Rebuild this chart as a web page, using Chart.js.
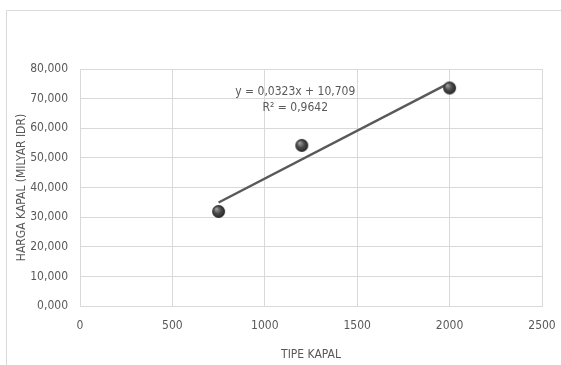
<!DOCTYPE html>
<html>
<head>
<meta charset="utf-8">
<script src="https://cdn.jsdelivr.net/npm/chart.js@4"></script>
<style>
  html, body { margin: 0; padding: 0; background: #fff; }
  #wrap { position: relative; width: 561px; height: 365px; }
</style>
</head>
<body>
<div id="wrap"><canvas id="chartKapal"></canvas></div>
<script>
// data
const tipeKapal = [750, 1200, 2000];
const hargaKapal = [31.9, 54.2, 73.6];
const yTicks = [0, 10, 20, 30, 40, 50, 60, 70, 80];
const xTicks = [0, 500, 1000, 1500, 2000, 2500];
// trendline as printed on the chart
const slope = 0.0323;
const intercept = 10.709;
const eqText = ['y = 0,0323x + 10,709', 'R\u00b2 = 0,9642'];

const grey = '#595959';
const gridGrey = '#d9d9d9';
const font = "'DejaVu Sans Condensed', 'Liberation Sans', Arial, sans-serif";

// little shaded ball for the markers
function makeBall(r) {
  const c = document.createElement('canvas');
  c.width = c.height = r * 2 + 2;
  const g = c.getContext('2d');
  const cx = r + 1, cy = r + 1;
  const grad = g.createRadialGradient(cx - r * 0.35, cy - r * 0.4, r * 0.1, cx, cy, r);
  grad.addColorStop(0, '#9a9a9a');
  grad.addColorStop(0.5, '#4a4a4a');
  grad.addColorStop(1, '#262626');
  g.fillStyle = grad;
  g.beginPath();
  g.arc(cx, cy, r, 0, Math.PI * 2);
  g.fill();
  return c;
}
const ball = makeBall(6.5);

const points = tipeKapal.map((x, i) => ({ x: x, y: hargaKapal[i] }));
const xMin = Math.min(...tipeKapal), xMax = Math.max(...tipeKapal);
const trend = [
  { x: xMin, y: slope * xMin + intercept },
  { x: xMax, y: slope * xMax + intercept }
];

const frame = {
  id: 'frame',
  beforeDraw(chart) {
    const c = chart.ctx;
    c.save();
    c.strokeStyle = gridGrey;
    c.lineWidth = 1;
    c.beginPath();
    c.moveTo(6.5, 365);
    c.lineTo(6.5, 10.5);
    c.lineTo(561, 10.5);
    c.stroke();
    c.restore();
  }
};

const eqLabel = {
  id: 'eqLabel',
  afterDatasetsDraw(chart) {
    const c = chart.ctx;
    const xs = chart.scales.x, ys = chart.scales.y;
    const px = xs.getPixelForValue(1165);
    const py = ys.getPixelForValue(72.4);
    c.save();
    c.fillStyle = grey;
    c.font = '12px ' + font;
    c.textAlign = 'center';
    c.textBaseline = 'middle';
    c.fillText(eqText[0], px, py);
    c.fillText(eqText[1], px, py + 16);
    c.restore();
  }
};

const ctx = document.getElementById('chartKapal').getContext('2d');
const chartKapal = new Chart(ctx, {
  type: 'scatter',
  data: {
    datasets: [{
      label: 'Harga kapal',
      data: points,
      pointStyle: ball,
      pointRadius: 6,
      pointHoverRadius: 6,
      order: 1
    }, {
      type: 'line',
      label: 'Trendline',
      data: trend,
      borderColor: grey,
      borderWidth: 2.5,
      pointRadius: 0,
      fill: false,
      order: 2
    }]
  },
  options: {
    responsive: true,
    maintainAspectRatio: false,
    animation: false,
    events: [],
    layout: { padding: { left: 0, top: 69, right: 19, bottom: 0 } },
    plugins: {
      legend: { display: false },
      tooltip: { enabled: false }
    },
    scales: {
      x: {
        type: 'linear',
        min: 0,
        max: 2500,
        afterBuildTicks: (s) => { s.ticks = xTicks.map(v => ({ value: v })); },
        afterFit: (s) => { s.height = 59; s.paddingRight = 0; s.paddingLeft = 0; },
        grid: { color: gridGrey, drawTicks: false },
        border: { color: gridGrey },
        ticks: {
          color: grey,
          padding: 13,
          maxRotation: 0,
          font: { family: font, size: 12 },
          callback: (v) => String(v)
        },
        title: {
          display: true,
          text: 'TIPE KAPAL',
          color: grey,
          font: { family: font, size: 12 },
          padding: { top: 0, bottom: 3 }
        }
      },
      y: {
        min: 0,
        max: 80,
        afterBuildTicks: (s) => { s.ticks = yTicks.map(v => ({ value: v })); },
        afterFit: (s) => { s.width = 80; },
        grid: { color: gridGrey, drawTicks: false },
        border: { color: gridGrey },
        ticks: {
          color: grey,
          padding: 12,
          font: { family: font, size: 12 },
          callback: (v) => v.toFixed(3).replace('.', ',')
        },
        title: {
          display: true,
          text: 'HARGA KAPAL (MILYAR IDR)',
          color: grey,
          font: { family: font, size: 12 },
          padding: { top: 15, bottom: 0 }
        }
      }
    }
  },
  plugins: [frame, eqLabel]
});
</script>
</body>
</html>
